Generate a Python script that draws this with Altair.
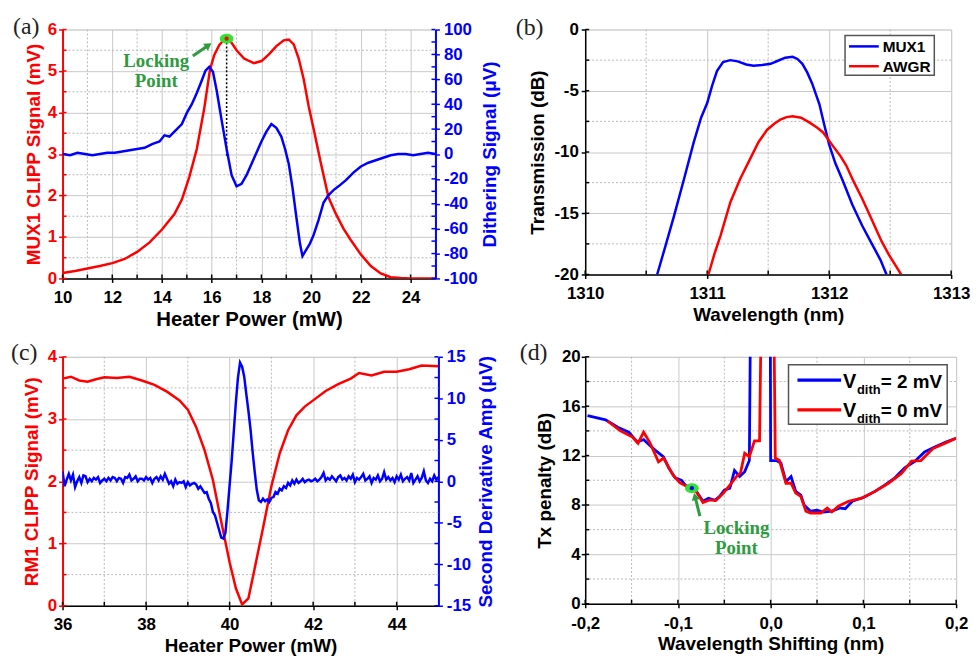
import altair as alt
import pandas as pd

SANS = "Liberation Sans"
SERIF = "Liberation Serif"
RED = "#ff0000"
BLUE = "#0000ff"
GREEN = "#2e9b3f"
MARK_GREEN = "#33e033"
GRID = "#c8c8c8"
MINOR = "#b8b8b8"
MINUS = "replace(datum.label, '\u2212', '-')"
COMMA = "replace(replace(datum.label, '\u2212', '-'), '.', ',')"

# ---------------- panel (a) data ----------------
a_red_x = [10, 10.5, 11, 11.5, 12, 12.5, 13, 13.5, 14, 14.5,
           14.8, 15.1, 15.4, 15.7, 15.93, 16.1, 16.3, 16.5, 16.6, 16.8,
           17.0, 17.3, 17.7, 18.0, 18.3, 18.6, 18.9, 19.1, 19.3, 19.5,
           19.7, 19.9, 20.1, 20.4, 20.7, 21.0, 21.3, 21.6, 22.0, 22.4,
           22.8, 23.2, 23.6, 24.0, 24.5, 25.0]
a_red_y = [0.13, 0.18, 0.24, 0.30, 0.37, 0.47, 0.64, 0.87, 1.18, 1.55,
           1.9, 2.45, 3.12, 4.1, 5.03, 5.38, 5.62, 5.76, 5.78, 5.68,
           5.5, 5.3, 5.19, 5.24, 5.4, 5.6, 5.74, 5.76, 5.64, 5.3,
           4.8, 4.15, 3.6, 2.75, 1.95, 1.55, 1.2, 0.92, 0.58, 0.3,
           0.12, 0.03, 0.01, 0.0, 0.0, 0.0]
a_blue_x = [10.0, 10.3, 10.6, 10.9, 11.2, 11.5, 11.8, 12.1, 12.4, 12.7,
            13.0, 13.3, 13.6, 13.9, 14.1, 14.3, 14.5, 14.8, 15.0, 15.2,
            15.4, 15.6, 15.75, 15.9, 16.05, 16.2, 16.4, 16.6, 16.8, 17.0,
            17.2, 17.4, 17.6, 17.8, 18.0, 18.2, 18.4, 18.6, 18.8, 18.95,
            19.1, 19.25, 19.4, 19.55, 19.65, 19.8, 19.95, 20.1, 20.3, 20.5,
            20.7, 20.9, 21.1, 21.4, 21.7, 22.0, 22.3, 22.6, 22.9, 23.2,
            23.5, 23.8, 24.1, 24.4, 24.7, 25.0]
a_blue_y = [0, -1, 1, 0, -1, 0, 1, 1, 2, 3,
            4, 5, 8, 10, 15, 14, 18, 24, 33, 40,
            49, 59, 67, 70, 66, 51, 27, 4, -17, -26,
            -24, -17, -8, 1, 10, 18, 24, 21, 14, 4,
            -8, -27, -50, -72, -82, -77, -72, -65, -53, -39,
            -33, -29, -26, -21, -15, -10, -7, -5, -3, -1,
            0, 0, -1, 0, 1, 0]
a_lock = [16.6, 5.78]          # locking point (x, mV)
a_lock_drop = 2.96             # bottom of dotted line (mV)
a_text_xy = [13.77, 5.24, 4.76]
a_arrow = [15.24, 5.36, 15.87, 5.62]
a_xticks = [10, 12, 14, 16, 18, 20, 22, 24]
a_xminor = [11, 13, 15, 17, 19, 21, 23]
a_yticks = [0, 1, 2, 3, 4, 5, 6]
a_yminor = [0.5, 1.5, 2.5, 3.5, 4.5, 5.5]
a_y2ticks = [-100, -80, -60, -40, -20, 0, 20, 40, 60, 80, 100]
a_y2minor = [-90, -70, -50, -30, -10, 10, 30, 50, 70, 90]

# ---------------- panel (b) data ----------------
b_series = ["MUX1", "AWGR"]
b_mux_x = [1310.59, 1310.66, 1310.73, 1310.81, 1310.89, 1310.95, 1311.0, 1311.04, 1311.08, 1311.13,
           1311.19, 1311.25, 1311.32, 1311.38, 1311.45, 1311.52, 1311.58, 1311.64, 1311.70, 1311.74,
           1311.78, 1311.82, 1311.86, 1311.92, 1311.96, 1312.0, 1312.05, 1312.11, 1312.19, 1312.27,
           1312.35, 1312.42, 1312.47]
b_mux_y = [-20, -17.6, -15.15, -12.2, -9.2, -7.2, -6.0, -4.6, -3.4, -2.65,
           -2.5, -2.6, -2.85, -2.95, -2.9, -2.8, -2.55, -2.3, -2.23, -2.4,
           -2.8, -3.5, -4.4, -6.1, -7.8, -9.4, -10.9, -12.3, -14.3, -16.0,
           -17.5, -18.8, -20]
b_awgr_x = [1311.01, 1311.06, 1311.11, 1311.19, 1311.27, 1311.35, 1311.42, 1311.49, 1311.55, 1311.60,
            1311.65, 1311.70, 1311.77, 1311.84, 1311.90, 1311.95, 1312.03, 1312.09, 1312.14, 1312.20,
            1312.27, 1312.33, 1312.38, 1312.43, 1312.49, 1312.59]
b_awgr_y = [-20, -18.3, -16.8, -14.1, -12.2, -10.6, -9.2, -8.2, -7.7, -7.35,
            -7.15, -7.08, -7.2, -7.6, -8.0, -8.4, -9.5, -10.3, -11.1, -12.4,
            -13.8, -15.1, -16.2, -17.3, -18.4, -20]
b_xticks = [1310, 1311, 1312, 1313]
b_xminor = [1310.5, 1311.5, 1312.5]
b_yticks = [-20, -15, -10, -5, 0]
b_yminor = [-17.5, -12.5, -7.5, -2.5]

# ---------------- panel (c) data ----------------
c_red_x = [36.0, 36.2, 36.4, 36.6, 36.8, 37.0, 37.3, 37.6, 37.9, 38.2,
           38.5, 38.8, 39.0, 39.2, 39.4, 39.6, 39.8, 40.0, 40.15, 40.3,
           40.45, 40.6, 40.8, 41.0, 41.2, 41.4, 41.6, 41.8, 42.0, 42.3,
           42.6, 42.9, 43.1, 43.4, 43.7, 44.0, 44.3, 44.6, 45.0]
c_red_y = [3.65, 3.68, 3.62, 3.60, 3.64, 3.67, 3.66, 3.68, 3.62, 3.55,
           3.44, 3.30, 3.15, 2.87, 2.50, 2.02, 1.35, 0.70, 0.28, 0.02,
           0.12, 0.60, 1.25, 1.92, 2.45, 2.82, 3.06, 3.20, 3.30, 3.45,
           3.56, 3.65, 3.74, 3.70, 3.76, 3.76, 3.80, 3.86, 3.85]
c_blue_start, c_blue_step = 36.0, 0.05
c_blue_y = [1.2, -0.6, 0.2, 0.9, 0.1, 0.8, -0.7, 0.0, 0.5, -0.2,
            0.7, 0.6, -0.1, 0.3, 0.0, 0.4, 0.2, 0.5, -0.2, 0.1,
            0.3, 0.0, 0.4, 0.1, 0.5, 0.4, 0.0, 0.4, 0.3, -0.2,
            0.5, 0.4, 0.8, 0.1, 0.3, 0.6, 0.0, 0.3, 0.3, 0.1,
            0.5, 0.2, 0.4, -0.2, 0.3, 0.5, 0.1, 0.6, 0.2, 0.9,
            0.3, -0.3, 0.0, -0.6, 0.2, -0.3, -0.1, -0.2, 0.0, -0.7,
            -0.1, -0.5, -0.3,
            -0.2, -0.4, -0.9, -0.6, -1.0, -1.4, -1.3, -2.1, -2.6, -3.7,
            -4.1, -5.0, -5.9, -6.8, -6.9, -6.2, -3.5, -0.5, 2.5, 6.0,
            9.5, 12.5, 14.3, 13.8, 12.6, 10.5, 8.5, 6.3, 3.6, 1.2,
            -1.0, -2.3, -2.5, -2.1, -2.4, -2.2, -2.5, -2.0, -1.9, -1.3,
            -1.5, -0.9, -1.1, -0.6, -0.8, -0.2, -0.5, 0.1, -0.3, 0.2,
            -0.2, 0.0, 0.3, -0.1, 0.1, 0.2, 0.0, 0.1,
            0.3, 0.0, 0.2, 0.5, 1.0, 0.1, 0.4, 0.2, 0.6, 0.3,
            0.0, 0.5, 0.7, 0.2, 0.4, 0.1, 0.6, 0.3, 0.8, -0.1,
            0.4, 0.2, 0.5, 0.9, 0.1, 0.3, 0.6, -0.2, 0.4, 0.2,
            0.7, 0.0, 0.3, 1.1, 0.2, 0.5, 0.1, 0.4, -0.1, 0.6,
            0.2, 0.8, 0.0, 0.3, 0.5, 0.1, 1.0, -0.2, 0.2, 0.6,
            0.0, 0.4, 1.2, 0.1, -0.2, 0.3, 0.0, 0.7, 0.2, 0.5]
c_blue_x = [round(c_blue_start + c_blue_step * i, 2) for i in range(len(c_blue_y))]
c_xticks = [36, 38, 40, 42, 44]
c_xminor = [37, 39, 41, 43]
c_yticks = [0, 1, 2, 3, 4]
c_yminor = [0.5, 1.5, 2.5, 3.5]
c_y2ticks = [-15, -10, -5, 0, 5, 10, 15]
c_y2minor = [-12.5, -7.5, -2.5, 2.5, 7.5, 12.5]

# ---------------- panel (d) data ----------------
d_blue_x = [-0.1975, -0.178, -0.165, -0.153, -0.144, -0.137, -0.130, -0.124, -0.1155, -0.110,
            -0.103, -0.096, -0.092, -0.085, -0.080, -0.073, -0.067, -0.060, -0.055, -0.050,
            -0.044, -0.039, -0.0335, -0.028, -0.023, -0.021, -0.0007, 0.0, 0.006, 0.011,
            0.0165, 0.022, 0.027, 0.0325, 0.036, 0.043, 0.050, 0.057, 0.066, 0.075,
            0.0805, 0.088, 0.100, 0.1125, 0.123, 0.134, 0.1445, 0.155, 0.166, 0.177,
            0.189, 0.2]
d_blue_y = [15.24, 14.9, 14.3, 13.9, 13.1, 13.3, 12.8, 12.4, 11.9, 11.0,
            10.2, 10.0, 9.6, 9.36, 9.1, 8.3, 8.55, 8.37, 8.7, 9.2,
            9.36, 10.8, 10.3, 10.7, 11.6, 30, 30, 11.6, 11.6, 11.4,
            9.9, 10.3, 9.1, 8.8, 8.0, 7.5, 7.57, 7.43, 7.5, 7.75,
            7.7, 8.3, 8.6, 9.1, 9.6, 10.2, 11.0, 11.5, 12.3, 12.7,
            13.1, 13.4]
d_red_x = [-0.176, -0.162, -0.149, -0.143, -0.137, -0.130, -0.121, -0.1155, -0.105, -0.098,
           -0.0905, -0.085, -0.080, -0.073, -0.066, -0.059, -0.051, -0.044, -0.037, -0.0325,
           -0.028, -0.023, -0.0175, -0.012, -0.009, 0.0025, 0.005, 0.0095, 0.0165, 0.022,
           0.027, 0.0325, 0.038, 0.043, 0.054, 0.061, 0.066, 0.073, 0.084, 0.098,
           0.1125, 0.127, 0.141, 0.152, 0.162, 0.175, 0.187, 0.2]
d_red_y = [14.8, 14.0, 13.5, 13.0, 13.9, 13.0, 11.5, 11.8, 10.4, 9.8,
           9.5, 9.4, 9.04, 8.2, 8.4, 8.37, 8.96, 9.6, 10.3, 10.6,
           12.2, 11.9, 13.2, 13.2, 30, 30, 11.8, 11.6, 9.76, 9.76,
           8.96, 8.7, 7.5, 7.35, 7.35, 7.75, 7.43, 7.9, 8.3, 8.55,
           9.1, 9.76, 10.56, 11.55, 11.6, 12.57, 12.97, 13.4]
d_lock = [-0.085, 9.36]
d_text_xy = [-0.037, 6.15, 4.55]
d_arrow = [-0.0763, 7.09, -0.0816, 8.69]
d_legend = ["2 mV", "0 mV"]
d_xticks = [-0.2, -0.1, 0.0, 0.1, 0.2]
d_xminor = [-0.15, -0.05, 0.05, 0.15]
d_yticks = [0, 4, 8, 12, 16, 20]
d_yminor = [2, 6, 10, 14, 18]


# ---------------- helpers ----------------
def axis(title, values, color="black", orient="bottom", grid=True, fmt=None, expr=None,
         lpad=6, tpad=4, dwidth=2, tsize=19):
    kw = dict(title=title, values=values, orient=orient, grid=grid, gridColor=GRID, gridWidth=1,
              ticks=True, tickSize=4, tickWidth=1.5, tickColor=color,
              domainColor=color, domainWidth=dwidth, labelColor=color, titleColor=color,
              labelFont=SANS, labelFontSize=17, labelFontWeight="bold", titleFont=SANS,
              titleFontSize=tsize, titleFontWeight="bold", labelFlush=False, labelOverlap=False,
              labelPadding=max(lpad - 4, 0), titlePadding=tpad)
    if fmt:
        kw["format"] = fmt
    if expr:
        kw["labelExpr"] = expr
    if orient == "right":
        kw["titleAngle"] = 270
        kw["titleBaseline"] = "top"
    return alt.Axis(**kw)


def qscale(lo, hi):
    return alt.Scale(domain=[lo, hi], nice=False, zero=False)


def minor(xs, ys, X, Y):
    out = []
    if xs:
        out.append(alt.Chart(pd.DataFrame({"x": xs})).mark_rule(
            color=MINOR, strokeDash=[2, 2], strokeWidth=1).encode(x=X))
    if ys:
        out.append(alt.Chart(pd.DataFrame({"y": ys})).mark_rule(
            color=MINOR, strokeDash=[2, 2], strokeWidth=1).encode(y=Y))
    return out


def xin(vals, X, h, color="black"):
    """small inward ticks on the bottom axis"""
    return alt.Chart(pd.DataFrame({"x": vals})).mark_rule(color=color, strokeWidth=1.5).encode(
        x=X, y=alt.value(h - 4), y2=alt.value(h))


def yin(vals, Y, x0, x1, color="black"):
    """small inward ticks on a vertical axis"""
    return alt.Chart(pd.DataFrame({"y": vals})).mark_rule(color=color, strokeWidth=1.5).encode(
        y=Y, x=alt.value(x0), x2=alt.value(x1))


def line(xs, ys, X, Y, color, width=2.5):
    return alt.Chart(pd.DataFrame({"x": xs, "y": ys})).mark_line(
        color=color, strokeWidth=width, clip=True).encode(x=X, y=Y)


def plabel(t, dx, dy):
    return alt.Chart(pd.DataFrame({"t": [t]})).mark_text(
        font=SERIF, fontSize=24, align="left", baseline="top", color="#222").encode(
        text="t:N", x=alt.value(dx), y=alt.value(dy))


def ptext(t, x, y, size, anchor="left"):
    return alt.Chart(pd.DataFrame({"t": [t]})).mark_text(
        font=SANS, fontSize=size, fontWeight="bold", align=anchor, baseline="alphabetic",
        color="black").encode(text="t:N", x=alt.value(x), y=alt.value(y))


def box(x0, x1, y0, y1):
    return alt.Chart(pd.DataFrame({"t": [0]})).mark_rect(
        fill="white", stroke="#555", strokeWidth=1.5).encode(
        x=alt.value(x0), x2=alt.value(x1), y=alt.value(y0), y2=alt.value(y1))


def swatch(x0, x1, y, color, width):
    return alt.Chart(pd.DataFrame({"t": [0]})).mark_rule(color=color, strokeWidth=width).encode(
        x=alt.value(x0), x2=alt.value(x1), y=alt.value(y))


def locking(X, Y, txy, arrow, lock, head_angle, inner_color):
    tdf = pd.DataFrame({"x": [txy[0], txy[0]], "y": [txy[1], txy[2]], "t": ["Locking", "Point"]})
    text = alt.Chart(tdf).mark_text(font=SERIF, fontSize=19, fontWeight="bold", color=GREEN,
                                    baseline="middle").encode(x=X, y=Y, text="t:N")
    adf = pd.DataFrame({"x": [arrow[0], arrow[2]], "y": [arrow[1], arrow[3]]})
    arr = alt.Chart(adf).mark_line(color=GREEN, strokeWidth=3).encode(x=X, y=Y)
    hdf = pd.DataFrame({"x": [arrow[2]], "y": [arrow[3]]})
    head = alt.Chart(hdf).mark_point(shape="triangle-up", filled=True, color=GREEN, size=70,
                                     opacity=1, angle=head_angle).encode(x=X, y=Y)
    mdf = pd.DataFrame({"x": [lock[0]], "y": [lock[1]]})
    ell = "M -1 0 A 1 0.72 0 1 0 1 0 A 1 0.72 0 1 0 -1 0 Z"
    mk = alt.Chart(mdf).mark_point(shape=ell, filled=True, color=MARK_GREEN, size=190,
                                   opacity=1).encode(x=X, y=Y)
    dot = alt.Chart(mdf).mark_point(shape="circle", filled=True, color=inner_color, size=18,
                                    opacity=1).encode(x=X, y=Y)
    return [arr, head, text, mk, dot]


# ---------------- panel (a) ----------------
WA, HA = 376, 251
Xa = alt.X("x:Q", scale=qscale(10, 25),
           axis=axis("Heater Power (mW)", a_xticks, fmt="d",
                     lpad=11, tpad=4, dwidth=1.5, tsize=20.5))
Ya = alt.Y("y:Q", scale=qscale(0, 6),
           axis=axis("MUX1 CLIPP Signal (mV)", a_yticks, color=RED, orient="left",
                     fmt="d", lpad=6, tpad=4))
Ya2 = alt.Y("y:Q", scale=qscale(-100, 100),
            axis=axis("Dithering Signal (\u03bcV)", a_y2ticks,
                      color=BLUE, orient="right", grid=False, fmt="d", expr=MINUS, lpad=8, tpad=4))
drop_a = alt.Chart(pd.DataFrame({"x": [a_lock[0]], "y": [a_lock_drop], "y2": [a_lock[1]]})).mark_rule(
    color="black", strokeDash=[2, 2], strokeWidth=1.5).encode(x=Xa, y=Ya, y2="y2:Q")
inner_a = alt.layer(
    *minor(a_xminor, a_yminor, Xa, Ya),
    xin(a_xminor + a_xticks, Xa, HA),
    yin(a_yminor + a_yticks, Ya, 0, 4, RED),
    line(a_red_x, a_red_y, Xa, Ya, RED),
    drop_a,
    *locking(Xa, Ya, a_text_xy, a_arrow, a_lock, 56, RED),
    plabel("(a)", -50, -14),
)
right_a = alt.layer(
    yin(a_y2minor + a_y2ticks, Ya2, WA - 4, WA, BLUE),
    line(a_blue_x, a_blue_y, Xa, Ya2, BLUE),
)
panel_a = alt.layer(inner_a, right_a).resolve_scale(y="independent").properties(width=WA, height=HA)

# ---------------- panel (b) ----------------
WB, HB = 369, 247
Xb = alt.X("x:Q", scale=qscale(1310, 1313),
           axis=axis("Wavelength (nm)", b_xticks, fmt="d", lpad=11, tpad=4, dwidth=1.5))
Yb = alt.Y("y:Q", scale=qscale(-20, 0),
           axis=axis("Transmission (dB)", b_yticks, orient="left", fmt="d",
                     expr=MINUS, lpad=7, tpad=6, dwidth=1.5))
legend_b = [box(262, 352, 6, 46)]
for i, (lab, col) in enumerate(zip(b_series, [BLUE, RED])):
    oy = 20 * i
    legend_b += [swatch(266, 296, 17 + oy, col, 2.5), ptext(lab, 300, 23 + oy, 15.5)]

panel_b = alt.layer(
    *minor(b_xminor, b_yminor, Xb, Yb),
    xin(b_xminor + b_xticks, Xb, HB),
    yin(b_yminor + b_yticks, Yb, 0, 4),
    line(b_mux_x, b_mux_y, Xb, Yb, BLUE),
    line(b_awgr_x, b_awgr_y, Xb, Yb, RED),
    *legend_b,
    plabel("(b)", -70, -13),
).properties(width=WB, height=HB)

# ---------------- panel (c) ----------------
WC, HC = 379, 251
Xc = alt.X("x:Q", scale=qscale(36, 45),
           axis=axis("Heater Power (mW)", c_xticks, fmt="d", lpad=11, tpad=4, dwidth=1.5))
Yc = alt.Y("y:Q", scale=qscale(0, 4),
           axis=axis("RM1 CLIPP Signal (mV)", c_yticks, color=RED, orient="left", fmt="d",
                     lpad=6, tpad=6))
Yc2 = alt.Y("y:Q", scale=qscale(-15, 15),
            axis=axis("Second Derivative Amp (\u03bcV)", c_y2ticks, color=BLUE,
                      orient="right", grid=False, fmt="d", expr=MINUS, lpad=8, tpad=6))
inner_c = alt.layer(
    *minor(c_xminor, c_yminor, Xc, Yc),
    xin(c_xminor + c_xticks, Xc, HC),
    yin(c_yminor + c_yticks, Yc, 0, 4, RED),
    line(c_red_x, c_red_y, Xc, Yc, RED),
    plabel("(c)", -52, -16),
)
right_c = alt.layer(
    yin(c_y2minor + c_y2ticks, Yc2, WC - 4, WC, BLUE),
    line(c_blue_x, c_blue_y, Xc, Yc2, BLUE),
)
panel_c = alt.layer(inner_c, right_c).resolve_scale(y="independent").properties(width=WC, height=HC)

# ---------------- panel (d) ----------------
WD, HD = 374, 249
Xd = alt.X("x:Q", scale=qscale(-0.2, 0.2),
           axis=axis("Wavelength Shifting (nm)", d_xticks, fmt=".1f",
                     expr=COMMA, lpad=12, tpad=3, dwidth=1.5))
Yd = alt.Y("y:Q", scale=qscale(0, 20),
           axis=axis("Tx penalty (dB)", d_yticks, orient="left", fmt="d", lpad=5,
                     tpad=7, dwidth=1.5))

legend_d = [box(205, 365, 8, 68)]
for i, (lab, col) in enumerate(zip(d_legend, [BLUE, RED])):
    oy = 30 * i
    legend_d += [
        swatch(214, 258, 23.5 + oy, col, 3.5),
        ptext("V", 260, 31 + oy, 20),
        ptext("dith", 274, 37 + oy, 13),
        ptext("= " + lab, 298, 31 + oy, 19),
    ]

panel_d = alt.layer(
    *minor(d_xminor, d_yminor, Xd, Yd),
    xin(d_xminor + d_xticks, Xd, HD),
    yin(d_yminor + d_yticks, Yd, 0, 4),
    line(d_blue_x, d_blue_y, Xd, Yd, BLUE, 2.8),
    line(d_red_x, d_red_y, Xd, Yd, RED, 2.8),
    *locking(Xd, Yd, d_text_xy, d_arrow, d_lock, 346, BLUE),
    *legend_d,
    plabel("(d)", -66, -16),
).properties(width=WD, height=HD)

chart = alt.concat(panel_a, panel_b, panel_c, panel_d, columns=2, bounds="flush",
                   spacing={"row": 79, "column": 148}).properties(
    padding={"left": 2, "top": 4, "right": 0, "bottom": 0}
).configure_view(stroke="#333", strokeWidth=1.5).configure(font=SANS)

chart.save("out.html", embed_options={"renderer": "svg", "actions": False})
